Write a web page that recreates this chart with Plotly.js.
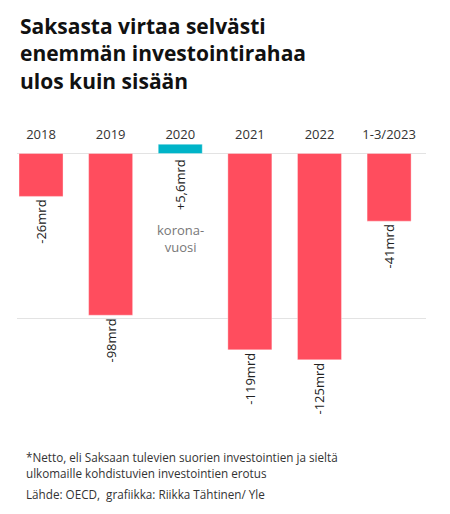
<!DOCTYPE html>
<html>
<head>
<meta charset="utf-8">
<script src="https://cdn.plot.ly/plotly-3.0.1.min.js"></script>
<style>
html,body{margin:0;padding:0;background:#fff;}
#chart{width:450px;height:514px;}
</style>
</head>
<body>
<div id="chart"></div>
<script>
var categories = ['2018', '2019', '2020', '2021', '2022', '1-3/2023'];
var values = [-26, -98, 5.6, -119, -125, -41];
var valueLabels = ['-26mrd', '-98mrd', '+5,6mrd', '-119mrd', '-125mrd', '-41mrd'];
var barColors = ['#ff4d5e', '#ff4d5e', '#00b4c8', '#ff4d5e', '#ff4d5e', '#ff4d5e'];
var titleText = 'Saksasta virtaa selvästi<br>enemmän investointirahaa<br>ulos kuin sisään';
var noteLines = ['*Netto, eli Saksaan tulevien suorien investointien ja sieltä',
                 'ulkomaille kohdistuvien investointien erotus'];
var sourceText = 'Lähde: OECD,  grafiikka: Riikka Tähtinen/ Yle';
var coronaText = 'korona-<br>vuosi';

var FONT = 'Open Sans, sans-serif';
var PLOT_TOP = 143, PLOT_BOTTOM = 417, PLOT_H = PLOT_BOTTOM - PLOT_TOP;

// negative bars get outside labels; positive bar labelled by annotation
var barTexts = values.map(function(v, i){ return v < 0 ? valueLabels[i] : ''; });

var trace = {
  type: 'bar',
  x: categories,
  y: values,
  width: 0.632,
  marker: {color: barColors, line: {color: 'rgba(255,255,255,0.35)', width: 1}},
  text: barTexts,
  textposition: 'outside',
  textangle: -90,
  constraintext: 'none',
  cliponaxis: false,
  textfont: {family: FONT, size: 13, color: '#222'},
  hoverinfo: 'none'
};

var annotations = [];
values.forEach(function(v, i){
  if (v > 0) {
    annotations.push({
      x: i, y: 0, xref: 'x', yref: 'y',
      text: valueLabels[i], textangle: -90, showarrow: false,
      xanchor: 'center', yanchor: 'top', yshift: -4,
      font: {family: FONT, size: 13, color: '#222'}
    });
    annotations.push({
      x: i, y: -51.5, xref: 'x', yref: 'y',
      text: coronaText, showarrow: false,
      xanchor: 'center', yanchor: 'middle',
      font: {family: FONT, size: 13, color: '#777'}
    });
  }
});
function paperY(px){ return (PLOT_BOTTOM - px) / PLOT_H; }
noteLines.forEach(function(t, k){
  annotations.push({
    x: 7/409, y: paperY(456.7 + k*16.3), xref: 'paper', yref: 'paper',
    text: t, showarrow: false, xanchor: 'left', yanchor: 'middle', align: 'left',
    font: {family: FONT, size: 11.7, color: '#333'}
  });
});
annotations.push({
  x: 7/409, y: paperY(494), xref: 'paper', yref: 'paper',
  text: sourceText, showarrow: false, xanchor: 'left', yanchor: 'middle', align: 'left',
  font: {family: FONT, size: 11.7, color: '#333'}
});

var layout = {
  width: 450, height: 514,
  paper_bgcolor: '#fff', plot_bgcolor: '#fff',
  margin: {l: 17, r: 24, t: PLOT_TOP, b: 514 - PLOT_BOTTOM, pad: 0},
  showlegend: false,
  title: {
    text: titleText, xref: 'container', yref: 'container',
    x: 20/450, xanchor: 'left', y: 1 - 34/514, yanchor: 'top',
    font: {family: FONT, size: 21, color: '#111', weight: 700}
  },
  xaxis: {
    type: 'category', side: 'top', range: [-0.345, 5.53],
    showgrid: false, zeroline: false, showline: false, ticks: '',
    tickfont: {family: FONT, size: 13, color: '#333'}, fixedrange: true
  },
  yaxis: {
    range: [-(PLOT_BOTTOM - 153.5) / 1.65, (153.5 - PLOT_TOP) / 1.65], dtick: 100, tick0: 0,
    showgrid: true, gridcolor: '#e3e3e3', gridwidth: 1.2,
    zeroline: true, zerolinecolor: '#e3e3e3', zerolinewidth: 1.2,
    showticklabels: false, ticks: '', showline: false, fixedrange: true
  },
  annotations: annotations
};

Plotly.newPlot('chart', [trace], layout, {displayModeBar: false, staticPlot: true});
</script>
</body>
</html>
